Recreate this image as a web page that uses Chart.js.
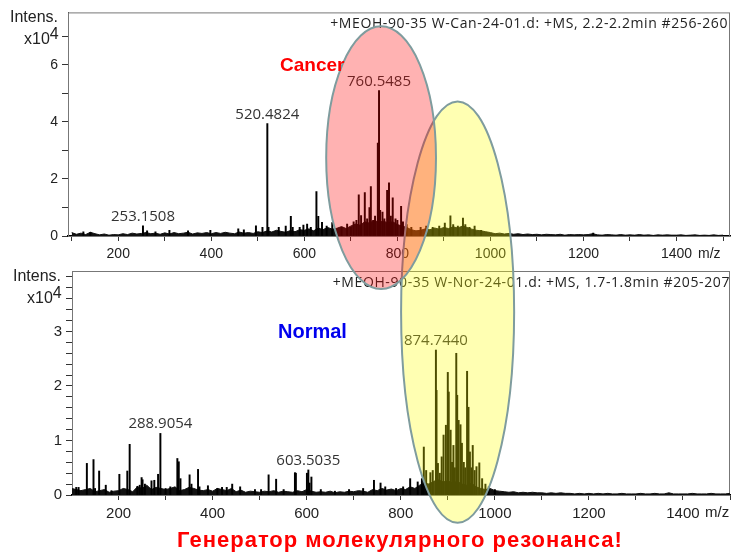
<!DOCTYPE html>
<html>
<head>
<meta charset="utf-8">
<script src="https://cdn.jsdelivr.net/npm/chart.js@4.4.0/dist/chart.umd.min.js"></script>
<style>
  html, body { margin: 0; padding: 0; background: #fff; }
  #page { position: relative; width: 735px; height: 555px; overflow: hidden; font-family: 'Liberation Sans', Arial, sans-serif; }
  .abs { position: absolute; white-space: nowrap; }
  .hdr { font-family: 'Open Sans', sans-serif; font-size: 14px; line-height: 16px; letter-spacing: 0.6px; color: #222; z-index: 1; }
  .intens { font-size: 16px; line-height: 18px; color: #222; z-index: 1; }
  .intens sup { font-size: 16px; position: relative; top: -1px; vertical-align: top; line-height: 10px; }
  .mz { color: #222; z-index: 1; }
  #overlay { position: absolute; left: 0; top: 0; z-index: 2; pointer-events: none; }
  .tag { font-weight: bold; z-index: 3; }
</style>
</head>
<body>
<div id="page">
  <canvas id="topChart" class="abs" style="left:0;top:0" width="735" height="262"></canvas>
  <canvas id="botChart" class="abs" style="left:0;top:258px" width="735" height="263"></canvas>

  <div class="abs hdr" style="right:7px;top:15px">+MEOH-90-35 W-Can-24-01.d: +MS, 2.2-2.2min #256-260</div>
  <div class="abs hdr" style="right:5px;top:274px">+MEOH-90-35 W-Nor-24-01.d: +MS, 1.7-1.8min #205-207</div>

  <div class="abs intens" style="left:10px;top:8px">Intens.</div>
  <div class="abs intens" style="left:24px;top:30px">x10<sup>4</sup></div>
  <div class="abs intens" style="left:13px;top:267px">Intens.</div>
  <div class="abs intens" style="left:27px;top:289px">x10<sup>4</sup></div>

  <div class="abs mz" style="left:698px;top:245px;font-size:14px;line-height:16px">m/z</div>
  <div class="abs mz" style="left:705px;top:503px;font-size:15px;line-height:17px">m/z</div>

  <canvas id="overlay" width="735" height="555"></canvas>

  <div class="abs tag" style="left:280px;top:55px;font-size:19px;line-height:20px;color:#ff0000">Cancer</div>
  <div class="abs tag" style="left:278px;top:320px;font-size:20px;line-height:22px;color:#0000ee">Normal</div>
  <div class="abs tag" style="left:400px;top:528px;transform:translateX(-50%);font-size:22px;line-height:24px;letter-spacing:1px;color:#ff0000">Генератор молекулярного резонанса!</div>
</div>

<script>
// ---- data (intensity in x10^4) ----
// baseline noise, one value every 10 m/z from 100 to 1500
const noiseStart = 100;
const noiseStep = 10;
const cancerNoise = [
  0.12, 0.06, 0.10, 0.05, 0.13, 0.08, 0.04, 0.07, 0.03, 0.05,
  0.04, 0.08, 0.05, 0.10, 0.07, 0.09, 0.12, 0.08, 0.10, 0.06,
  0.11, 0.07, 0.12, 0.08, 0.10, 0.13, 0.07, 0.11, 0.09, 0.12,
  0.08, 0.12, 0.09, 0.13, 0.10, 0.08, 0.14, 0.10, 0.12, 0.09,
  0.15, 0.12, 0.18, 0.14, 0.20, 0.16, 0.13, 0.19, 0.15, 0.22,
  0.20, 0.25, 0.18, 0.28, 0.22, 0.30, 0.24, 0.27, 0.33, 0.26,
  0.35, 0.42, 0.38, 0.50, 0.45, 0.55, 0.48, 0.52, 0.46, 0.50,
  0.40, 0.35, 0.30, 0.22, 0.18, 0.20, 0.25, 0.22, 0.28, 0.24,
  0.30, 0.26, 0.32, 0.28, 0.35, 0.30, 0.24, 0.20, 0.18, 0.15,
  0.12, 0.08, 0.10, 0.07, 0.09, 0.06, 0.08, 0.05, 0.07, 0.05,
  0.06, 0.04, 0.06, 0.05, 0.04, 0.06, 0.03, 0.05, 0.04, 0.05,
  0.04, 0.05, 0.08, 0.04, 0.03, 0.05, 0.04, 0.03, 0.05, 0.03,
  0.04, 0.03, 0.05, 0.03, 0.04, 0.02, 0.04, 0.03, 0.04, 0.03,
  0.03, 0.04, 0.02, 0.03, 0.04, 0.02, 0.03, 0.02, 0.04, 0.02, 0.03
];
const normalNoise = [
  0.12, 0.10, 0.08, 0.10, 0.12, 0.06, 0.08, 0.10, 0.05, 0.07,
  0.08, 0.12, 0.10, 0.06, 0.15, 0.12, 0.18, 0.10, 0.14, 0.12,
  0.10, 0.12, 0.15, 0.08, 0.10, 0.14, 0.12, 0.09, 0.08, 0.10,
  0.07, 0.12, 0.10, 0.08, 0.12, 0.06, 0.09, 0.05, 0.07, 0.06,
  0.05, 0.07, 0.06, 0.08, 0.05, 0.07, 0.06, 0.05, 0.08, 0.06,
  0.10, 0.07, 0.05, 0.06, 0.05, 0.07, 0.04, 0.06, 0.05, 0.07,
  0.06, 0.08, 0.07, 0.05, 0.10, 0.08, 0.12, 0.09, 0.11, 0.08,
  0.12, 0.10, 0.15, 0.12, 0.18, 0.22, 0.20, 0.25, 0.28, 0.24,
  0.26, 0.22, 0.25, 0.20, 0.18, 0.22, 0.15, 0.12, 0.10, 0.12,
  0.08, 0.07, 0.06, 0.05, 0.06, 0.04, 0.05, 0.04, 0.05, 0.04,
  0.04, 0.03, 0.04, 0.03, 0.04, 0.03, 0.03, 0.02, 0.03, 0.02,
  0.03, 0.02, 0.03, 0.02, 0.03, 0.02, 0.02, 0.03, 0.02, 0.02,
  0.02, 0.03, 0.02, 0.02, 0.03, 0.02, 0.02, 0.04, 0.02, 0.02,
  0.02, 0.02, 0.03, 0.02, 0.02, 0.02, 0.03, 0.02, 0.02, 0.02, 0.03
];

// peaks
const cancerMz = [
  125, 140, 253.1508, 262, 280, 310, 350, 398, 458, 470, 496, 510, 520.4824, 523,
  545, 560, 571, 575, 590, 598, 606, 614, 626, 630, 638, 648, 660, 680, 692, 700,
  706, 712, 717, 722, 730, 735, 740, 743, 748, 752, 758, 760.5485, 763, 768, 772,
  778, 782, 786, 790, 796, 800, 808, 812, 820, 830, 850, 862, 876, 890, 902, 914,
  920, 930, 941, 946, 955, 966, 980, 1221
];
const cancerInt = [
  0.15, 0.12, 0.36, 0.18, 0.15, 0.20, 0.18, 0.20, 0.25, 0.22, 0.36, 0.30, 3.94, 0.30,
  0.30, 0.35, 0.69, 0.30, 0.30, 0.38, 0.42, 0.30, 1.56, 0.69, 0.48, 0.35, 0.47, 0.30, 0.42, 0.30,
  0.50, 0.55, 1.44, 0.72, 1.52, 0.60, 1.00, 1.73, 0.55, 0.70, 3.26, 5.10, 0.90, 0.84, 0.60,
  1.60, 1.86, 0.70, 1.34, 0.60, 0.55, 1.04, 0.50, 0.40, 0.30, 0.30, 0.35, 0.30, 0.35, 0.45, 0.71,
  0.40, 0.35, 0.63, 0.40, 0.30, 0.35, 0.20, 0.10
];
const cancerLabels = [253.1508, 520.4824, 760.5485];

const normalMz = [
  110, 115, 132.6, 146.7, 150, 158.7, 172.8, 185, 201.7, 218.6, 223.6, 240, 245, 249,
  251, 256, 270, 276, 284, 288.9054, 300, 310, 325, 328, 331.6, 351, 355, 369, 372,
  390, 410, 420, 430, 441.6, 458.5, 490, 503, 519, 535, 551, 575, 577, 600.5,
  603.5035, 606, 610, 630, 660, 690, 720, 743, 757, 767, 790, 805, 820, 836, 845, 849,
  854, 863, 868, 874.744, 876, 879, 883, 887, 891, 896, 900, 902, 906, 909, 912,
  915, 918, 920, 923, 927, 930, 934, 937, 941, 944, 947, 950, 953, 957, 961, 967,
  973, 980, 987, 1000
];
const normalInt = [
  0.14, 0.14, 0.58, 0.65, 0.12, 0.44, 0.18, 0.08, 0.38, 0.44, 0.93, 0.16, 0.18, 0.32,
  0.28, 0.20, 0.26, 0.27, 0.38, 1.13, 0.12, 0.15, 0.67, 0.61, 0.30, 0.37, 0.20, 0.47, 0.15,
  0.17, 0.12, 0.14, 0.14, 0.20, 0.15, 0.10, 0.10, 0.37, 0.29, 0.10, 0.41, 0.40, 0.40,
  0.46, 0.22, 0.33, 0.10, 0.07, 0.10, 0.12, 0.27, 0.22, 0.15, 0.12, 0.15, 0.30, 0.24, 0.30, 0.88,
  0.45, 0.41, 0.45, 2.66, 1.92, 0.58, 0.40, 0.70, 1.10, 1.28, 2.25, 1.89, 1.19, 0.60, 0.91,
  0.50, 2.60, 1.83, 1.37, 1.29, 0.95, 0.60, 0.50, 2.27, 1.61, 0.79, 0.50, 0.91, 0.45, 0.52, 0.59,
  0.30, 0.20, 0.15, 0.10
];
const normalLabels = [288.9054, 603.5035, 874.744];

// axis ranges
const cancerRange = { mzMin: 92, mzMax: 1515, intMax: 7.84 };
const normalRange = { mzMin: 101, mzMax: 1500, intMax: 4.11 };

// highlight zones (x in m/z of the upper spectrum, top in upper intensity, bottom in lower intensity)
const zones = [
  { mzFrom: 808, mzTo: 1051, topInt: 4.72, bottomInt: -0.51, fill: 'rgba(255,255,0,0.3)' },
  { mzFrom: 647, mzTo: 883, topInt: 7.35, bottomInt: 3.78, fill: 'rgba(255,0,0,0.3)' }
];

// ---- helpers ----
function noisePoints(arr) {
  return arr.map((v, i) => ({ x: noiseStart + i * noiseStep, y: v }));
}
function peakPoints(mz, ints) {
  return mz.map((m, i) => ({ x: m, y: ints[i] }));
}
function stepTicks(step) {
  return s => {
    const t = [];
    const n0 = Math.ceil(s.min / step - 1e-9);
    for (let n = n0; n * step <= s.max + 1e-9; n++) t.push({ value: +(n * step).toFixed(6) });
    s.ticks = t;
  };
}

const framePlugin = {
  id: 'frame',
  beforeDatasetsDraw(chart) {
    const a = chart.chartArea, ctx = chart.ctx;
    ctx.save();
    ctx.strokeStyle = '#777';
    ctx.lineWidth = 1;
    ctx.strokeRect(a.left + 0.5, a.top + 0.5, a.right - a.left - 1, a.bottom - a.top);
    ctx.restore();
  }
};

const peakLabelPlugin = {
  id: 'peakLabels',
  afterDatasetsDraw(chart, args, opts) {
    const ctx = chart.ctx;
    const xs = chart.scales.x, ys = chart.scales.y;
    ctx.save();
    ctx.font = '15px "Open Sans", sans-serif';
    ctx.fillStyle = '#333';
    ctx.textAlign = 'center';
    ctx.textBaseline = 'alphabetic';
    opts.labels.forEach(m => {
      const i = opts.mz.indexOf(m);
      const x = xs.getPixelForValue(m);
      const y = ys.getPixelForValue(opts.ints[i]);
      ctx.fillText(m.toFixed(4), x, y - 5);
    });
    ctx.restore();
  }
};

function makeSpectrum(canvasId, noise, mz, ints, labels, range, opt) {
  const ctx = document.getElementById(canvasId).getContext('2d');
  return new Chart(ctx, {
    type: 'bar',
    data: {
      datasets: [
        {
          type: 'line',
          data: noisePoints(noise),
          borderColor: '#111',
          backgroundColor: '#111',
          borderWidth: 1,
          pointRadius: 0,
          tension: 0,
          fill: 'origin',
          order: 2
        },
        {
          type: 'bar',
          data: peakPoints(mz, ints),
          backgroundColor: '#000',
          barThickness: 1.3,
          order: 1
        }
      ]
    },
    options: {
      responsive: false,
      animation: false,
      events: [],
      layout: { padding: { top: opt.padTop, right: opt.padRight, left: 0, bottom: 0 } },
      plugins: {
        legend: { display: false },
        tooltip: { enabled: false },
        peakLabels: { labels: labels, mz: mz, ints: ints }
      },
      scales: {
        x: {
          type: 'linear',
          min: range.mzMin,
          max: range.mzMax,
          offset: false,
          border: { color: '#000', width: 1.5 },
          grid: { offset: false, drawOnChartArea: false, tickLength: 5, tickColor: '#333' },
          ticks: {
            autoSkip: false,
            maxRotation: 0,
            padding: opt.xPad,
            color: '#222',
            font: { family: 'Liberation Sans', size: opt.tickSize },
            callback: v => (Math.round(v) % 200 === 0 && v < 1500) ? String(Math.round(v)) : ''
          },
          afterBuildTicks: stepTicks(100),
          afterFit(s) { s.height = 26; }
        },
        y: {
          min: 0,
          max: range.intMax,
          border: { color: '#333', width: 1 },
          grid: { drawOnChartArea: false, tickLength: 6, tickColor: '#333' },
          ticks: {
            autoSkip: false,
            padding: 4,
            color: '#222',
            font: { family: 'Liberation Sans', size: opt.tickSize },
            callback: opt.yLabel
          },
          afterBuildTicks: stepTicks(opt.yStep),
          afterFit(s) { s.width = opt.yWidth; }
        }
      }
    },
    plugins: [framePlugin, peakLabelPlugin]
  });
}

const topChart = makeSpectrum('topChart', cancerNoise, cancerMz, cancerInt, cancerLabels, cancerRange, {
  padTop: 10, padRight: 5, yWidth: 68, tickSize: 14, xPad: 5, yStep: 1,
  yLabel: v => (Math.round(v) % 2 === 0 && Math.round(v) < 7) ? String(Math.round(v)) : ''
});
const botChart = makeSpectrum('botChart', normalNoise, normalMz, normalInt, normalLabels, normalRange, {
  padTop: 12, padRight: 4, yWidth: 72, tickSize: 15, xPad: 5, yStep: 0.2,
  yLabel: v => (Math.abs(v - Math.round(v)) < 1e-6 && v < 3.5) ? String(Math.round(v)) : ''
});

// ---- highlight ellipses spanning both spectra ----
function drawZones() {
  const g = document.getElementById('overlay').getContext('2d');
  const tx = topChart.scales.x, ty = topChart.scales.y, by = botChart.scales.y;
  const botTop = 258;
  zones.forEach(z => {
    const x1 = tx.getPixelForValue(z.mzFrom), x2 = tx.getPixelForValue(z.mzTo);
    const y1 = ty.getPixelForValue(z.topInt);
    const y2 = botTop + by.getPixelForValue(z.bottomInt);
    g.beginPath();
    g.ellipse((x1 + x2) / 2, (y1 + y2) / 2, (x2 - x1) / 2, (y2 - y1) / 2, 0, 0, Math.PI * 2);
    g.fillStyle = z.fill;
    g.fill();
    g.lineWidth = 2;
    g.strokeStyle = '#7f9c9e';
    g.stroke();
  });
}
drawZones();
</script>
</body>
</html>
